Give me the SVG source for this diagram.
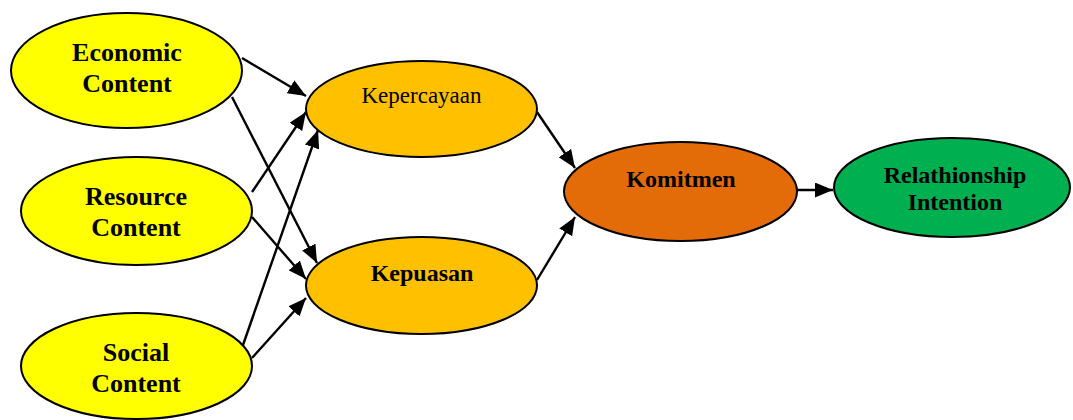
<svg xmlns="http://www.w3.org/2000/svg" width="1073" height="420" viewBox="0 0 1073 420">
  <style>
    .node { stroke: #000; stroke-width: 2; }
    .src { fill: #FFFF00; }
    .mid { fill: #FFC000; }
    .kom { fill: #E36C09; }
    .rel { fill: #00B050; }
    text { font-family: "Liberation Serif", "Times New Roman", serif; fill: #000; text-anchor: middle; }
    .b26 { font-size: 26px; font-weight: bold; }
    .b24 { font-size: 24px; font-weight: bold; }
    .r23 { font-size: 23px; }
    .edge { stroke: #000; stroke-width: 2.4; fill: none; marker-end: url(#arrow); }
  </style>
  <defs>
    <marker id="arrow" markerUnits="userSpaceOnUse" markerWidth="18" markerHeight="15" refX="18" refY="7.5" orient="auto">
      <path d="M0,0 L18,7.5 L0,15 z" fill="#000"/>
    </marker>
  </defs>
  <rect width="1073" height="420" fill="#fff"/>

  <g id="connectors">
    <line class="edge" x1="242" y1="58" x2="306" y2="96"/>
    <line class="edge" x1="232" y1="97" x2="317" y2="263"/>
    <line class="edge" x1="252" y1="192" x2="306" y2="112"/>
    <line class="edge" x1="252" y1="217" x2="306" y2="279"/>
    <line class="edge" x1="243" y1="345" x2="318" y2="130"/>
    <line class="edge" x1="252" y1="358" x2="306" y2="298"/>
    <line class="edge" x1="537" y1="112" x2="575" y2="168"/>
    <line class="edge" x1="537" y1="280" x2="575" y2="217"/>
    <line class="edge" x1="797" y1="190" x2="833" y2="190"/>
  </g>

  <g id="economic-content">
    <ellipse class="node src" cx="126.5" cy="70.5" rx="115.5" ry="57.5"/>
    <text class="b26" x="127" y="61">Economic</text>
    <text class="b26" x="127" y="92">Content</text>
  </g>

  <g id="resource-content">
    <ellipse class="node src" cx="136.5" cy="211" rx="115.5" ry="54"/>
    <text class="b26" x="136" y="205">Resource</text>
    <text class="b26" x="136" y="236">Content</text>
  </g>

  <g id="social-content">
    <ellipse class="node src" cx="136.5" cy="366" rx="115.5" ry="53"/>
    <text class="b26" x="136" y="361">Social</text>
    <text class="b26" x="136" y="392">Content</text>
  </g>

  <g id="kepercayaan">
    <ellipse class="node mid" cx="421.5" cy="109" rx="115.5" ry="48"/>
    <text class="r23" x="421.5" y="103">Kepercayaan</text>
  </g>

  <g id="kepuasan">
    <ellipse class="node mid" cx="421.5" cy="285.5" rx="115.5" ry="48.5"/>
    <text class="b24" x="422" y="281">Kepuasan</text>
  </g>

  <g id="komitmen">
    <ellipse class="node kom" cx="680.5" cy="191.5" rx="116.5" ry="49.5"/>
    <text class="b24" x="681" y="187">Komitmen</text>
  </g>

  <g id="relationship-intention">
    <ellipse class="node rel" cx="952" cy="187.5" rx="118" ry="49.5"/>
    <text class="b24" x="955" y="183">Relathionship</text>
    <text class="b24" x="955" y="210">Intention</text>
  </g>
</svg>
